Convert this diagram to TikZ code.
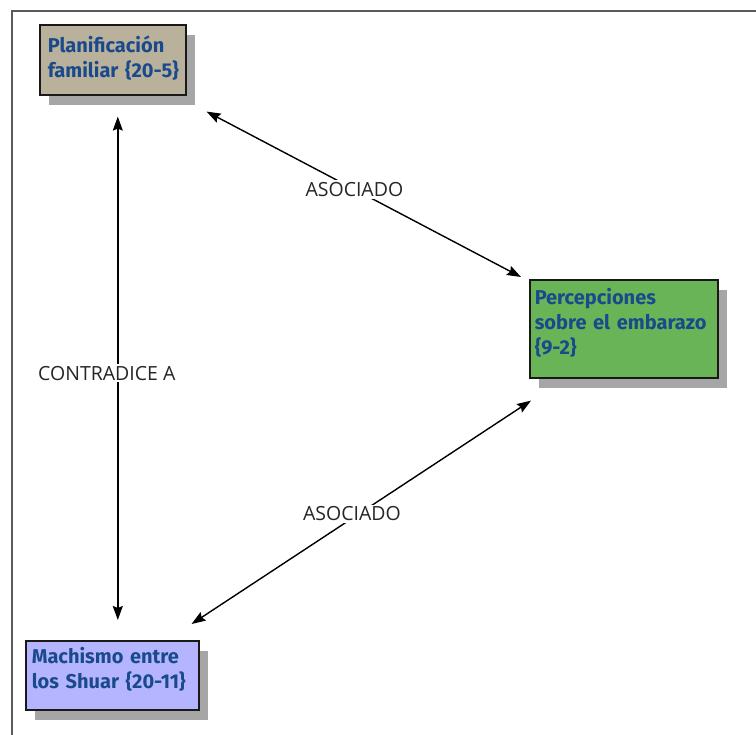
\documentclass[tikz,border=0pt]{standalone}
\usepackage{fontspec}
\setmainfont{Fira Sans}
\newfontfamily\lblfont{Open Sans}
\usetikzlibrary{arrows.meta,shadows}
\definecolor{txtblue}{HTML}{1A4A8C}
\definecolor{tanfill}{HTML}{B9B19B}
\definecolor{greenfill}{HTML}{69B457}
\definecolor{lavfill}{HTML}{B5B5FF}
\definecolor{shadowgray}{HTML}{A6A6A6}
\definecolor{framegray}{HTML}{5A5A5A}
\newcommand{\liftbox}[1]{\par\vspace{#1}}
\tikzset{
  concept/.style={draw=black!90, line width=1.6pt, anchor=north west, align=left,
    inner xsep=6pt, text=txtblue, font=\fontsize{20}{25}\selectfont\bfseries,
    drop shadow={shadow xshift=9pt, shadow yshift=-10pt, fill=shadowgray, opacity=1}},
  link/.style={line width=1.4pt, {Stealth[length=14pt,width=10pt,inset=2pt]}-{Stealth[length=14pt,width=10pt,inset=2pt]}},
  lbl/.style={fill=white, inner sep=2pt, font=\lblfont\fontsize{19.5}{22}\selectfont, text=black!85}
}
\begin{document}
\begin{tikzpicture}[x=1pt,y=-1pt]
\useasboundingbox (0,0) rectangle (756,735);
\draw[framegray, line width=1.2pt] (12,735) -- (12,11) -- (756,11);
\node[concept, fill=tanfill, minimum width=146pt, minimum height=70pt, text width=130pt, inner xsep=8pt] (plan) at (39,24)
  {\mbox{Planificación}\\\mbox{familiar \{20-5\}}\liftbox{3pt}};
\node[concept, fill=greenfill, minimum width=188pt, minimum height=98pt, text width=178pt, inner xsep=5pt] (perc) at (529,279)
  {\mbox{Percepciones}\\\mbox{sobre el embarazo}\\\mbox{\{9-2\}}\liftbox{12pt}};
\node[concept, fill=lavfill, minimum width=173pt, minimum height=69pt, text width=161pt] (mach) at (25,640)
  {\mbox{Machismo entre}\\\mbox{los Shuar \{20-11\}}\liftbox{12pt}};
\draw[link] ([shift={(5,21)}]plan.south) -- node[lbl, pos=0.51, xshift=-11pt] {CONTRADICE A} ([shift={(5.5,-20)}]mach.north);
\draw[link] ([shift={(20,16)}]plan.south east) -- node[lbl, pos=0.47] {ASOCIADO} ([shift={(-8,-2)}]perc.north west);
\draw[link] ([shift={(2,22)}]perc.south west) -- node[lbl, pos=0.507, xshift=-7pt] {ASOCIADO} ([shift={(-8,-16)}]mach.north east);
\end{tikzpicture}
\end{document}
